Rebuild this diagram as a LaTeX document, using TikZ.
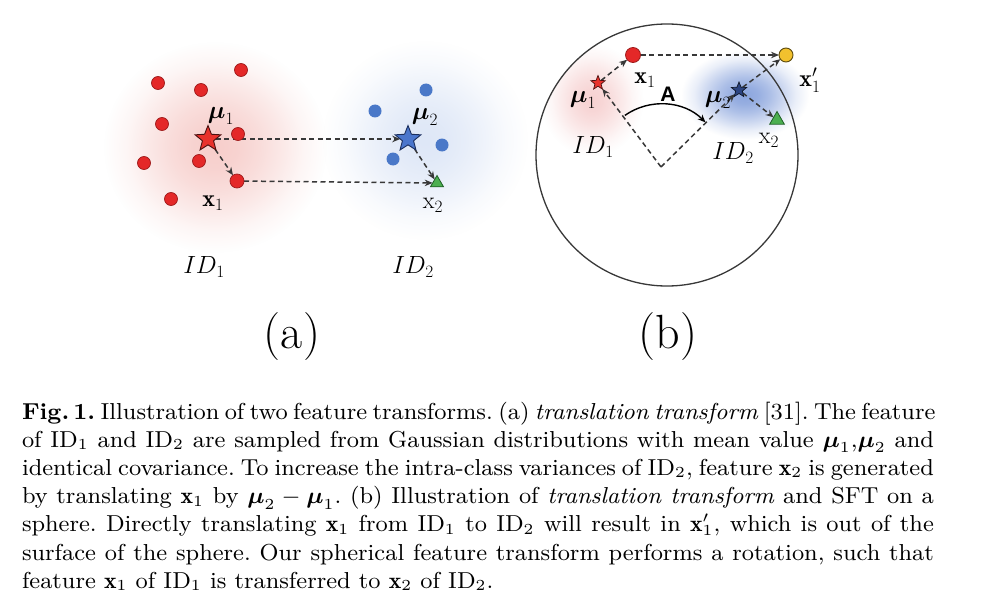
\documentclass[tikz,border=0pt]{standalone}
\usepackage{amsmath}
\usepackage{fontspec}
\newfontfamily\labsans{Liberation Sans}
\usetikzlibrary{shapes.geometric,arrows.meta,fadings}
\definecolor{dred}{HTML}{E42828}
\definecolor{dredo}{HTML}{9E1B1B}
\definecolor{dblue}{HTML}{4A78C8}
\definecolor{sred}{HTML}{E8322C}
\definecolor{sredo}{HTML}{4A1010}
\definecolor{sblue}{HTML}{4B76CC}
\definecolor{sblueo}{HTML}{1B2F5E}
\definecolor{tgreen}{HTML}{4CAF50}
\definecolor{tgreeno}{HTML}{1F5F26}
\definecolor{yel}{HTML}{F2C12E}
\definecolor{yelo}{HTML}{5C4A0E}
\definecolor{navy}{HTML}{2C4480}
\definecolor{navyo}{HTML}{101828}
\definecolor{lineg}{HTML}{383838}
\definecolor{blobred}{RGB}{247,206,203}
\definecolor{blobblue}{RGB}{222,231,247}
\definecolor{blobblueb}{RGB}{140,166,222}
\definecolor{blobredb}{RGB}{247,210,210}
\pgfdeclareradialshading{gaussfade}{\pgfpointorigin}{rgb(0bp)=(1,1,1); rgb(3bp)=(0.9,0.9,0.9); rgb(6bp)=(0.7,0.7,0.7); rgb(9bp)=(0.45,0.45,0.45); rgb(12bp)=(0.18,0.18,0.18); rgb(15bp)=(0,0,0); rgb(50bp)=(0,0,0)}
\pgfdeclarefading{gauss}{\pgfuseshading{gaussfade}}
\pgfdeclarelayer{bg}
\pgfdeclarelayer{mid}
\pgfsetlayers{bg,mid,main}
\newcommand{\capline}[1]{\makebox[345.8pt][s]{#1}}
\begin{document}
\begin{tikzpicture}[x=1pt,y=-1pt,
  every node/.style={inner sep=0pt, outer sep=0pt},
  dline/.style={draw=lineg, line width=1.5pt, dash pattern=on 5pt off 3.5pt, -{Stealth[length=8pt,width=6.5pt]}},
  rdot/.style={circle, fill=dred, draw=dredo, line width=0.7pt, minimum size=13pt},
  bdot/.style={circle, fill=dblue, minimum size=13pt},
  starshape/.style={star, star points=5, star point ratio=2.3, line width=0.9pt},
  tri/.style={regular polygon, regular polygon sides=3, fill=tgreen, draw=tgreeno, line width=0.8pt, minimum size=15pt},
  lab/.style={font=\fontsize{24}{28}\selectfont},
  plab/.style={font=\fontsize{48}{56}\selectfont},
]
\useasboundingbox (0,0) rectangle (987,615);

% ---------- blobs ----------
\begin{pgfonlayer}{bg}
\fill[white] (0,0) rectangle (987,615);
\fill[blobblue, path fading=gauss] (425,140) ellipse (170 and 165);
\fill[blobred, path fading=gauss] (215,147) ellipse (185 and 175);
\begin{scope}
\clip (667,155) circle (131);
\fill[blobredb, path fading=gauss, rotate around={50:(592,100)}] (592,100) ellipse (95 and 55);
\end{scope}
\fill[blobblueb, path fading=gauss, rotate around={-29:(745,95)}] (745,95) ellipse (105 and 52);
\end{pgfonlayer}

% ---------- panel (a) ----------
\node[rdot] (r1) at (158,83) {};
\node[rdot] (r2) at (201,90) {};
\node[rdot] (r3) at (241,70) {};
\node[rdot] (r4) at (162,124) {};
\node[rdot] (r5) at (238,134) {};
\node[rdot] (r6) at (144,163) {};
\node[rdot] (r7) at (199,161) {};
\node[rdot] (r8) at (171,199) {};
\node[rdot, minimum size=14pt] (xa1) at (237,181) {};
\node[starshape, minimum size=27pt, fill=sred, draw=sredo] (mua1) at (208,139) {};
\node[bdot] (b1) at (426,90) {};
\node[bdot] (b2) at (375,111) {};
\node[bdot] (b3) at (442,145) {};
\node[bdot] (b4) at (393,159) {};
\node[starshape, minimum size=27pt, fill=sblue, draw=sblueo] (mua2) at (408,139) {};
\node[tri] (xa2) at (437,183) {};

\begin{pgfonlayer}{mid}
\draw[dline] (mua1) -- (mua2);
\draw[dline] (mua1) -- (xa1);
\draw[dline] (xa1) -- (xa2);
\draw[dline] (mua2) -- (xa2);
\end{pgfonlayer}

\node[lab] (lmua1) at (221,116) {$\boldsymbol{\mu}_1$};
\node[lab] (lmua2) at (425,117) {$\boldsymbol{\mu}_2$};
\node[lab] (lxa1) at (213,203) {$\mathbf{x}_1$};
\node[lab] (lxa2) at (433,205) {$\mathrm{x}_2$};
\node[lab] (ida1) at (204,267) {$ID_1$};
\node[lab] (ida2) at (413,267) {$ID_2$};
\node[plab] (pa) at (292,337) {(a)};

% ---------- panel (b) ----------
\node[draw=lineg, line width=1.3pt, circle, minimum size=262pt] (sph) at (667,155) {};
\coordinate (O) at (661,167);
\node[starshape, minimum size=15pt, fill=sred, draw=sredo, line width=0.7pt] (mub1) at (598,83) {};
\node[circle, fill=dred, draw=dredo, line width=0.8pt, minimum size=15pt] (xb1) at (633,55) {};
\node[circle, fill=yel, draw=yelo, line width=0.9pt, minimum size=14pt] (xbp) at (786,55) {};
\node[starshape, minimum size=16pt, fill=navy, draw=navyo, line width=0.7pt] (mub2) at (739,90) {};
\node[tri, minimum size=17pt] (xb2) at (777,120) {};

\begin{pgfonlayer}{mid}
\draw[dline] (O) -- (mub1);
\draw[dline] (O) -- (mub2);
\draw[dline] (mub1) -- (xb1);
\draw[dline] (xb1) -- (xbp);
\draw[dline] (mub2) -- (xbp);
\draw[dline] (mub2) -- (xb2);
\end{pgfonlayer}
\draw[line width=1.4pt, -{Stealth[length=8pt,width=6.5pt]}] ([shift={(-125:63)}]O) arc (-125:-45:63);

\node[lab] (lmub1) at (583,100) {$\boldsymbol{\mu}_1$};
\node[lab] (lxb1) at (645,80) {$\mathbf{x}_1$};
\node[font=\labsans\bfseries\fontsize{21}{24}\selectfont] (lA) at (668,94) {A};
\node[lab] (lmub2) at (718,100) {$\boldsymbol{\mu}_2$};
\node[lab] (lxbp) at (810,80) {$\mathbf{x}'_1$};
\node[lab] (idb1) at (593,147) {$ID_1$};
\node[lab] (idb2) at (733,153) {$ID_2$};
\node[lab] (lxb2) at (769,140) {$\mathrm{x}_2$};
\node[plab] (pb) at (668,337) {(b)};

% ---------- caption ----------
\node[anchor=base west] (cap) at (22,419) {\scalebox{2.637}[2.564]{\parbox[t]{345.8pt}{\fontsize{9}{11}\selectfont\frenchspacing
\capline{\textbf{Fig.\,1.} Illustration of two feature transforms. (a) \textit{translation transform} [31]. The feature}\\
\capline{of ID$_1$ and ID$_2$ are sampled from Gaussian distributions with mean value $\boldsymbol{\mu}_1$,$\boldsymbol{\mu}_2$ and}\\
\capline{identical covariance. To increase the intra-class variances of ID$_2$, feature $\mathbf{x}_2$ is generated}\\
\capline{by translating $\mathbf{x}_1$ by $\boldsymbol{\mu}_2-\boldsymbol{\mu}_1$. (b) Illustration of \textit{translation transform} and SFT on a}\\
\capline{sphere. Directly translating $\mathbf{x}_1$ from ID$_1$ to ID$_2$ will result in $\mathbf{x}'_1$, which is out of the}\\
\capline{surface of the sphere. Our spherical feature transform performs a rotation, such that}\\
feature $\mathbf{x}_1$ of ID$_1$ is transferred to $\mathbf{x}_2$ of ID$_2$.}}};
\end{tikzpicture}
\end{document}
